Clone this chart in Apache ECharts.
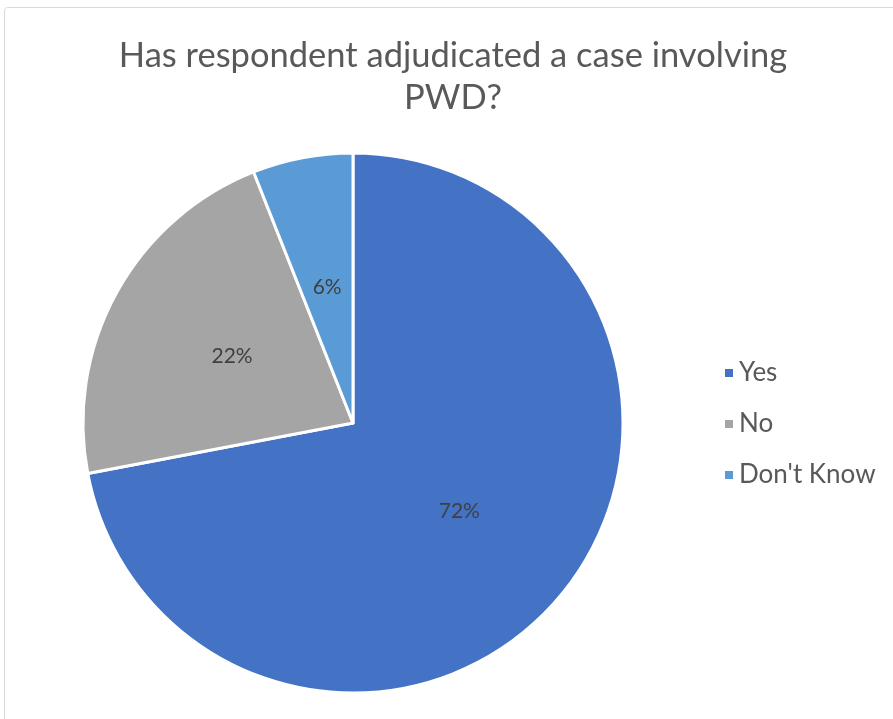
<!DOCTYPE html>
<html><head><meta charset="utf-8">
<script src="https://cdn.jsdelivr.net/npm/echarts@6/dist/echarts.min.js"></script>
<style>html,body{margin:0;padding:0;background:#fff}#c{width:893px;height:719px}</style>
</head><body><div id="c"></div>
<script>
const categories = ["Yes", "No", "Don't Know"];
const values = [72, 22, 6];
const colors = ['#4472C4', '#A5A5A5', '#5B9BD5'];
const FONT = 'Lato';
const chart = echarts.init(document.getElementById('c'));
chart.setOption({
  animation: false,
  graphic: [{type:'rect', shape:{x:4.5,y:7.5,width:900,height:720,r:3}, style:{fill:'none',stroke:'#d9d9d9',lineWidth:1}}],
  title: {
    text: 'Has respondent adjudicated a case involving\nPWD?',
    left: 448, top: 30, textAlign: 'center',
    textStyle: {fontFamily: FONT, fontSize: 34.5, fontWeight: 'normal', color: '#595959', lineHeight: 42}
  },
  legend: {
    orient: 'vertical', left: 718, top: 355,
    itemWidth: 10, itemHeight: 10, itemGap: 25, icon: 'rect',
    textStyle: {fontFamily: FONT, fontSize: 26, color: '#595959', lineHeight: 26},
    data: categories
  },
  series: [{
    type: 'pie', center: [353, 423], radius: 270, startAngle: 90, clockwise: true,
    label: {show: true, position: 'inside', formatter: '{d}%', fontFamily: FONT, fontSize: 21, color: '#404040'},
    labelLine: {show: false},
    itemStyle: {borderColor: '#fff', borderWidth: 3},
    emphasis: {disabled: true},
    data: categories.map((c, i) => ({name: c, value: values[i], itemStyle: {color: colors[i]}}))
  }]
});
</script></body></html>
